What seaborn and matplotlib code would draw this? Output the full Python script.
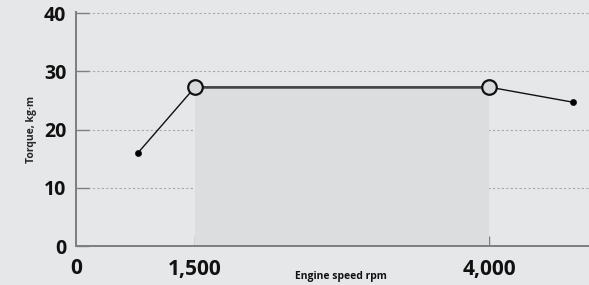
import matplotlib
matplotlib.use("Agg")
import matplotlib.pyplot as plt
import seaborn as sns
import pandas as pd

# data
rpm = [1015, 1500, 4000, 4715]
torque = [16.0, 27.3, 27.3, 24.7]
peak_rpm = [1500, 4000]
peak_torque = [27.3, 27.3]
y_ticks = [0, 10, 20, 30, 40]
x_ticks = [1500, 4000]
x_tick_labels = ["1,500", "4,000"]

bg = "#e6e7e9"
sns.set_theme(style="white")
plt.rcParams["font.family"] = ["Open Sans", "DejaVu Sans"]

df = pd.DataFrame({"rpm": rpm, "torque": torque})
peaks = pd.DataFrame({"rpm": peak_rpm, "torque": peak_torque})

fig = plt.figure(figsize=(5.89, 2.85), dpi=100, facecolor=bg)
ax = fig.add_axes([76 / 589, 39 / 285, 1 - 76 / 589, (246 - 12) / 285])
ax.set_facecolor(bg)

xmin, xmax = 488, 4850
ax.set_xlim(xmin, xmax)
ax.set_ylim(0, 40.2)

# plateau band
ax.fill_between(peak_rpm, 0, peak_torque, color="#dcdddf", lw=0, zorder=1)

# grid lines
for y in y_ticks[1:]:
    ax.axhline(y, xmin=12 / 513, color="#a9aaac", lw=0.8, ls=(0, (2, 2)), zorder=0)

sns.lineplot(data=df, x="rpm", y="torque", color="#111111", lw=1.0, ax=ax, zorder=3)
ax.plot(peak_rpm, peak_torque, color="#444444", lw=1.8, zorder=3)
sns.scatterplot(data=df.iloc[[0, -1]], x="rpm", y="torque", color="black", s=20,
                edgecolor="black", ax=ax, zorder=4)
sns.scatterplot(data=peaks, x="rpm", y="torque", s=110, color="#d9dadc",
                edgecolor="#111111", linewidth=1.6, ax=ax, zorder=5)

for s in ["top", "right"]:
    ax.spines[s].set_visible(False)
for s in ["left", "bottom"]:
    ax.spines[s].set_color("#7d7e80")
    ax.spines[s].set_linewidth(1.4)

ax.set_yticks(y_ticks)
ax.set_yticklabels([str(v) for v in y_ticks], fontsize=14, fontweight="bold", color="#111111")
ax.tick_params(axis="y", direction="in", length=9, width=1, color="#7d7e80", pad=7, left=True)
ax.set_xticks([xmin] + x_ticks)
ax.set_xticklabels(["0"] + x_tick_labels, fontsize=15, fontweight="bold", color="#111111")
ax.tick_params(axis="x", direction="in", length=7, width=1, color="#7d7e80", pad=9, bottom=True)
ax.xaxis.get_major_ticks()[0].tick1line.set_visible(False)

ax.set_xlabel("")
ax.set_ylabel("Torque, kg·m", fontsize=7.5, fontweight="bold", labelpad=5)
fig.text(341 / 589, 1 - 277 / 285, "Engine speed rpm", fontsize=7.5, fontweight="bold",
         ha="center", va="center", color="#111111")

fig.savefig("out.png", dpi=100, facecolor=bg)
